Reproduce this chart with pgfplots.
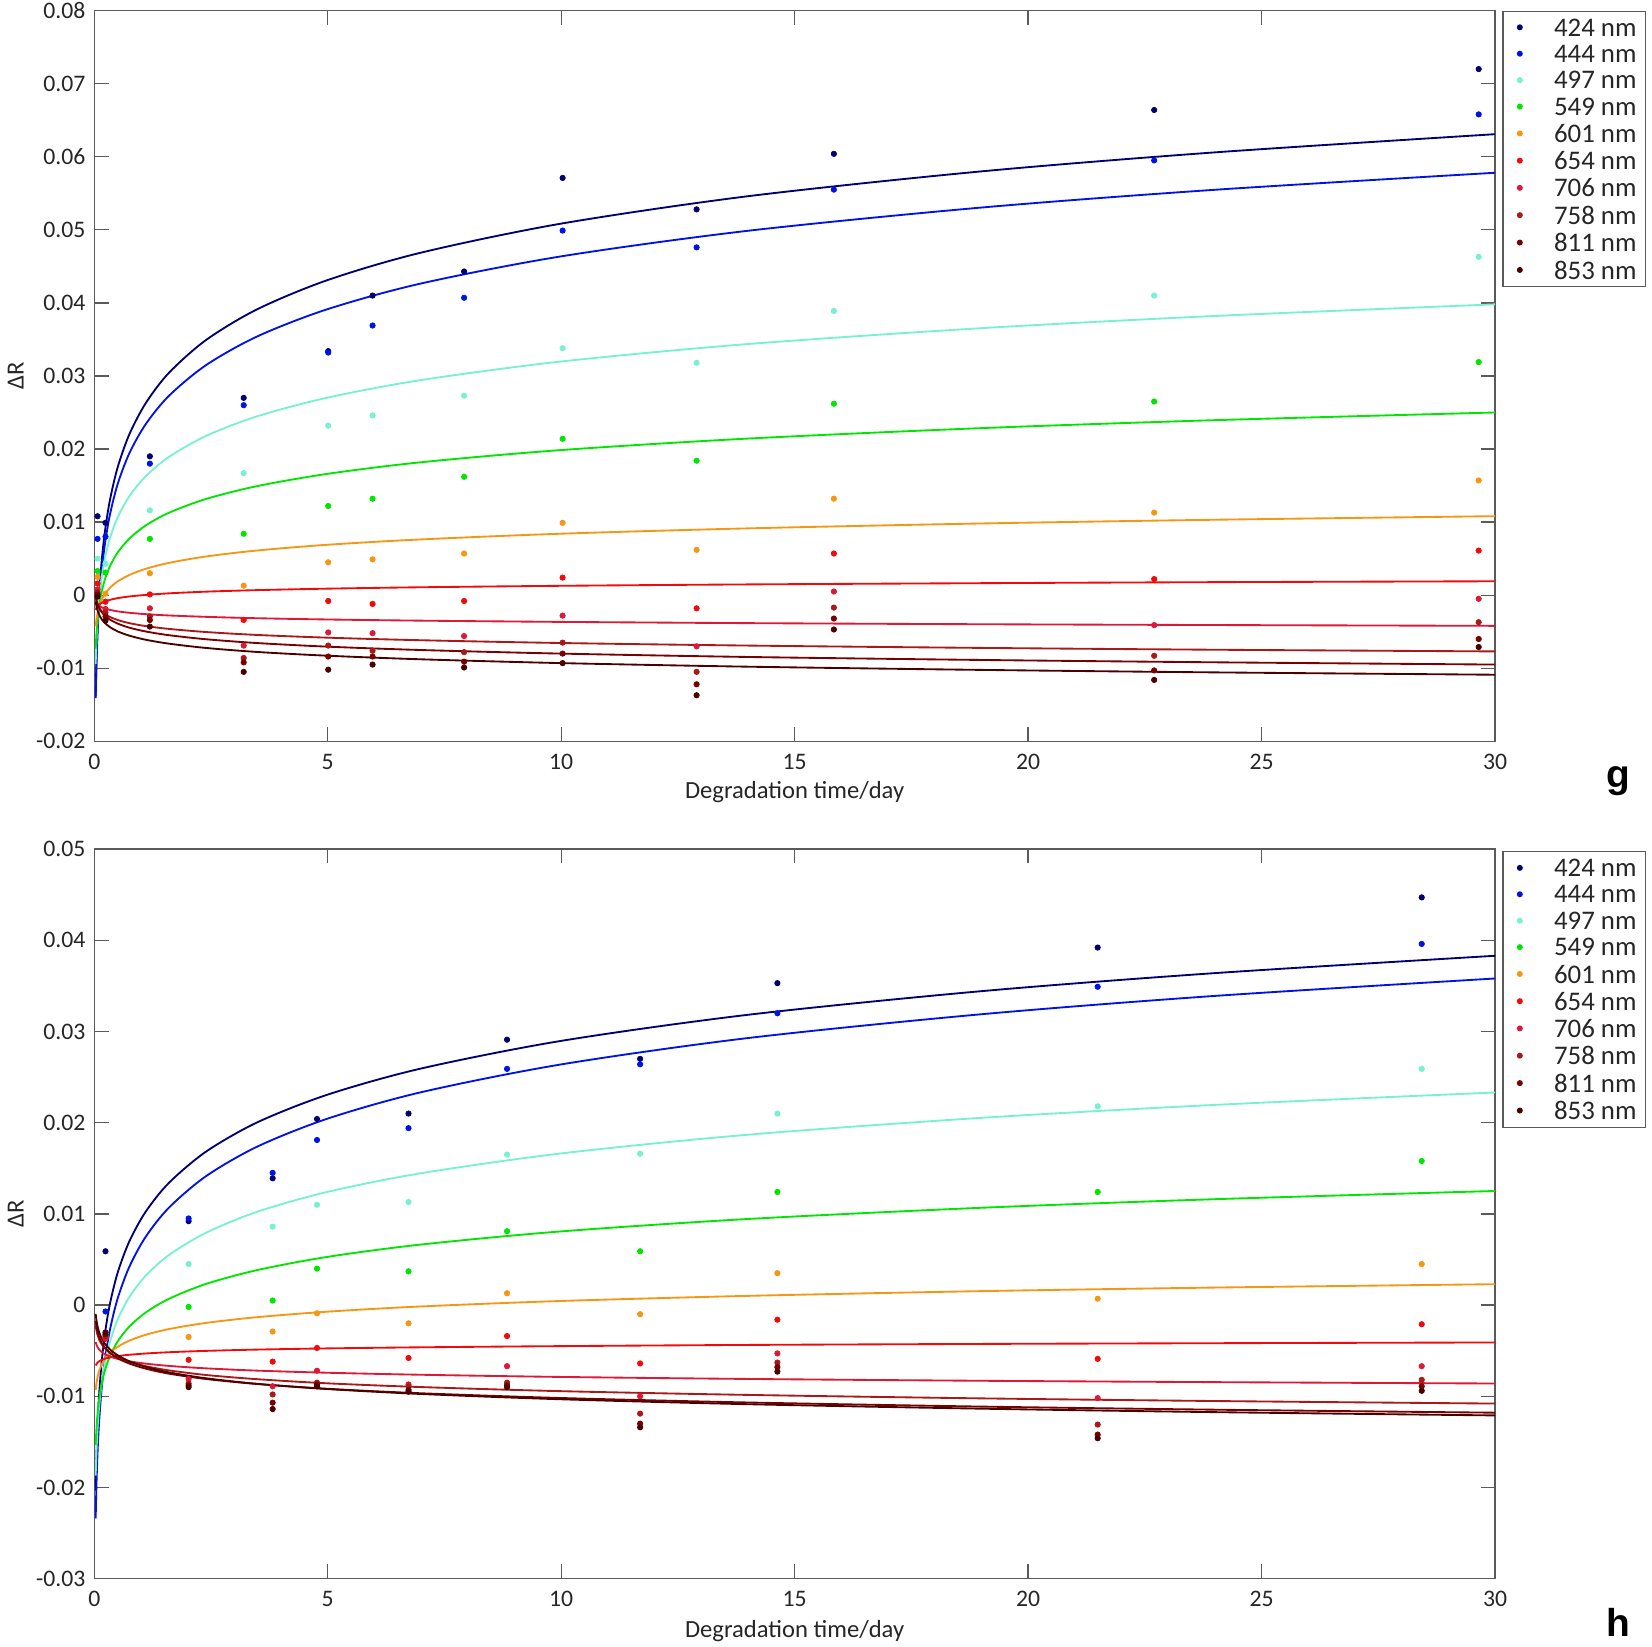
\documentclass[border=0pt]{standalone}
\usepackage{pgfplots}
\pgfplotsset{compat=1.18}
\usepackage{pgfplotstable}
\usepackage{fontspec}
\setmainfont{Carlito}
\newfontfamily\panelfont{Liberation Sans}

\definecolor{c424}{RGB}{0,0,112}
\definecolor{c444}{RGB}{0,18,230}
\definecolor{c497}{RGB}{120,240,210}
\definecolor{c549}{RGB}{0,230,0}
\definecolor{c601}{RGB}{245,150,20}
\definecolor{c654}{RGB}{240,10,10}
\definecolor{c706}{RGB}{220,25,55}
\definecolor{c758}{RGB}{170,25,25}
\definecolor{c811}{RGB}{120,0,0}
\definecolor{c853}{RGB}{75,0,0}
\definecolor{axgray}{RGB}{90,90,90}
\definecolor{txtgray}{RGB}{38,38,38}

% measured points, panel g
\pgfplotstableread{
t w424 w444 w497 w549 w601 w654 w706 w758 w811 w853
0.07 0.0108 0.0077 0.0050 0.0033 0.0025 0.0016 0.0008 0.0004 0.0001 -0.0002
0.24 0.0099 0.0080 0.0043 0.0031 0.0002 -0.0009 -0.0019 -0.0024 -0.0029 -0.0035
1.19 0.0190 0.0180 0.0116 0.0077 0.0030 0.0001 -0.0018 -0.0029 -0.0034 -0.0043
3.20 0.0270 0.0260 0.0167 0.0084 0.0013 -0.0034 -0.0069 -0.0086 -0.0092 -0.0105
5.01 0.0334 0.0332 0.0232 0.0122 0.0045 -0.0008 -0.0051 -0.0069 -0.0084 -0.0102
5.96 0.0410 0.0369 0.0246 0.0132 0.0049 -0.0012 -0.0052 -0.0076 -0.0084 -0.0095
7.92 0.0443 0.0407 0.0273 0.0162 0.0057 -0.0008 -0.0056 -0.0078 -0.0091 -0.0099
10.03 0.0571 0.0499 0.0338 0.0214 0.0099 0.0024 -0.0028 -0.0065 -0.0080 -0.0093
12.90 0.0528 0.0476 0.0318 0.0184 0.0062 -0.0018 -0.0070 -0.0105 -0.0122 -0.0137
15.84 0.0604 0.0555 0.0389 0.0262 0.0132 0.0057 0.0005 -0.0017 -0.0032 -0.0047
22.70 0.0664 0.0595 0.0410 0.0265 0.0113 0.0022 -0.0041 -0.0083 -0.0103 -0.0116
29.65 0.0720 0.0658 0.0463 0.0319 0.0157 0.0061 -0.0005 -0.0037 -0.0060 -0.0071
}\gpts

% fitted curves, panel g
\pgfplotstableread{
t w424 w444 w497 w549 w601 w654 w706 w758 w811 w853
0.03 -0.01386 -0.01410 -0.00939 -0.00733 -0.00425 -0.00200 -0.00085 -0.00045 -0.00004 -0.00088
0.045 -0.00935 -0.00988 -0.00650 -0.00543 -0.00337 -0.00177 -0.00105 -0.00087 -0.00059 -0.00146
0.07 -0.00442 -0.00528 -0.00335 -0.00337 -0.00241 -0.00152 -0.00126 -0.00134 -0.00120 -0.00210
0.1 -0.00045 -0.00157 -0.00082 -0.00170 -0.00163 -0.00132 -0.00144 -0.00171 -0.00169 -0.00262
0.15 0.00407 0.00265 0.00207 0.00020 -0.00075 -0.00109 -0.00163 -0.00214 -0.00224 -0.00321
0.22 0.00833 0.00664 0.00480 0.00199 0.00009 -0.00088 -0.00182 -0.00254 -0.00277 -0.00376
0.33 0.01285 0.01086 0.00769 0.00389 0.00097 -0.00065 -0.00201 -0.00297 -0.00332 -0.00435
0.5 0.01748 0.01519 0.01065 0.00584 0.00188 -0.00041 -0.00222 -0.00340 -0.00389 -0.00496
0.75 0.02200 0.01941 0.01353 0.00773 0.00276 -0.00018 -0.00241 -0.00383 -0.00445 -0.00554
1.1 0.02626 0.02339 0.01626 0.00953 0.00360 0.00003 -0.00260 -0.00423 -0.00497 -0.00610
1.6 0.03044 0.02729 0.01893 0.01128 0.00442 0.00025 -0.00278 -0.00462 -0.00548 -0.00664
2.4 0.03495 0.03151 0.02181 0.01318 0.00530 0.00048 -0.00297 -0.00505 -0.00604 -0.00723
3.5 0.03916 0.03544 0.02450 0.01494 0.00612 0.00069 -0.00316 -0.00545 -0.00656 -0.00778
5 0.04313 0.03915 0.02704 0.01661 0.00690 0.00089 -0.00333 -0.00582 -0.00705 -0.00829
7 0.04688 0.04266 0.02944 0.01819 0.00763 0.00108 -0.00349 -0.00617 -0.00751 -0.00878
10 0.05085 0.04637 0.03198 0.01986 0.00841 0.00128 -0.00366 -0.00655 -0.00800 -0.00930
14 0.05460 0.04987 0.03437 0.02143 0.00914 0.00147 -0.00383 -0.00690 -0.00846 -0.00979
19 0.05800 0.05305 0.03654 0.02286 0.00981 0.00164 -0.00398 -0.00722 -0.00887 -0.01023
24 0.06060 0.05548 0.03821 0.02395 0.01032 0.00178 -0.00409 -0.00747 -0.00919 -0.01057
30 0.06309 0.05781 0.03980 0.02500 0.01081 0.00190 -0.00420 -0.00770 -0.00950 -0.01089
}\gfit

% measured points, panel h
\pgfplotstableread{
t w424 w444 w497 w549 w601 w654 w706 w758 w811 w853
0.24 0.0059 -0.0007 -0.0031 -0.0033 -0.0035 -0.0037 -0.0036 -0.0034 -0.0032 -0.0030
2.02 0.0092 0.0095 0.0045 -0.0002 -0.0035 -0.0060 -0.0081 -0.0086 -0.0088 -0.0090
3.82 0.0139 0.0145 0.0086 0.0005 -0.0029 -0.0062 -0.0089 -0.0098 -0.0107 -0.0114
4.77 0.0204 0.0181 0.0110 0.0040 -0.0009 -0.0047 -0.0072 -0.0085 -0.0087 -0.0089
6.73 0.0210 0.0194 0.0113 0.0037 -0.0020 -0.0058 -0.0087 -0.0089 -0.0093 -0.0095
8.84 0.0291 0.0259 0.0165 0.0081 0.0013 -0.0034 -0.0067 -0.0085 -0.0088 -0.0090
11.69 0.0270 0.0264 0.0166 0.0059 -0.0010 -0.0064 -0.0100 -0.0119 -0.0130 -0.0134
14.63 0.0353 0.0320 0.0210 0.0124 0.0035 -0.0016 -0.0053 -0.0063 -0.0068 -0.0073
21.49 0.0392 0.0349 0.0218 0.0124 0.0007 -0.0059 -0.0102 -0.0131 -0.0142 -0.0146
28.43 0.0447 0.0396 0.0259 0.0158 0.0045 -0.0021 -0.0067 -0.0082 -0.0089 -0.0094
}\hpts

% fitted curves, panel h
\pgfplotstableread{
t w424 w444 w497 w549 w601 w654 w706 w758 w811 w853
0.03 -0.02035 -0.02339 -0.01869 -0.01533 -0.00931 -0.00662 -0.00405 -0.00223 -0.00171 -0.00097
0.045 -0.01691 -0.01992 -0.01623 -0.01370 -0.00863 -0.00648 -0.00432 -0.00274 -0.00230 -0.00163
0.07 -0.01316 -0.01613 -0.01354 -0.01192 -0.00789 -0.00631 -0.00461 -0.00328 -0.00295 -0.00234
0.1 -0.01013 -0.01307 -0.01137 -0.01048 -0.00729 -0.00618 -0.00484 -0.00373 -0.00347 -0.00291
0.15 -0.00669 -0.00960 -0.00890 -0.00885 -0.00661 -0.00603 -0.00511 -0.00423 -0.00406 -0.00357
0.22 -0.00343 -0.00632 -0.00658 -0.00730 -0.00596 -0.00589 -0.00536 -0.00470 -0.00462 -0.00418
0.33 0.00001 -0.00284 -0.00411 -0.00567 -0.00528 -0.00575 -0.00563 -0.00521 -0.00521 -0.00484
0.5 0.00354 0.00072 -0.00158 -0.00399 -0.00458 -0.00559 -0.00590 -0.00572 -0.00582 -0.00550
0.75 0.00698 0.00419 0.00088 -0.00236 -0.00390 -0.00545 -0.00617 -0.00622 -0.00641 -0.00616
1.1 0.01023 0.00748 0.00321 -0.00082 -0.00326 -0.00531 -0.00642 -0.00670 -0.00697 -0.00677
1.6 0.01341 0.01069 0.00549 0.00069 -0.00263 -0.00517 -0.00667 -0.00716 -0.00752 -0.00738
2.4 0.01685 0.01416 0.00795 0.00233 -0.00195 -0.00502 -0.00694 -0.00767 -0.00811 -0.00803
3.5 0.02006 0.01740 0.01025 0.00385 -0.00132 -0.00488 -0.00719 -0.00813 -0.00866 -0.00864
5 0.02308 0.02045 0.01242 0.00529 -0.00072 -0.00475 -0.00742 -0.00858 -0.00918 -0.00921
7 0.02594 0.02334 0.01446 0.00664 -0.00015 -0.00463 -0.00764 -0.00899 -0.00967 -0.00975
10 0.02897 0.02639 0.01663 0.00808 0.00045 -0.00450 -0.00788 -0.00944 -0.01019 -0.01033
14 0.03183 0.02928 0.01868 0.00944 0.00101 -0.00437 -0.00810 -0.00985 -0.01068 -0.01087
19 0.03442 0.03189 0.02053 0.01067 0.00153 -0.00426 -0.00830 -0.01023 -0.01113 -0.01136
24 0.03640 0.03390 0.02195 0.01161 0.00192 -0.00418 -0.00845 -0.01052 -0.01147 -0.01174
30 0.03830 0.03581 0.02331 0.01251 0.00229 -0.00410 -0.00860 -0.01080 -0.01180 -0.01210
}\hfit

\pgfplotsset{
  dotlegend/.style={legend image code/.code={%
      \path[draw=none, fill=none] (0cm,-0.05cm) rectangle (0.80cm,0.05cm);
      \draw[##1, mark size=1.3pt] plot coordinates {(0.22cm,0cm)};}},
  panel/.style={
    scale only axis,
    width=26.59cm,
    xmin=0, xmax=30,
    xtick={0,5,10,15,20,25,30},
    xticklabels={0,5,10,15,20,25,30},
    scaled y ticks=false,
    axis line style={axgray, line width=0.7pt},
    tick style={axgray, line width=0.7pt},
    major tick length=0.27cm,
    tick align=inside,
    tick label style={font=\fontsize{12.8}{15}\selectfont, text=txtgray},
    xticklabel style={yshift=-0.115cm},
    yticklabel style={xshift=-0.045cm},
    xlabel={Degradation time/day},
    ylabel={ΔR},
    label style={font=\fontsize{13.3}{16}\selectfont, text=txtgray},
    ylabel style={at={(axis description cs:-0.0561,0.5)}, anchor=center},
    legend cell align=left,
    legend style={at={(1,1)}, anchor=north west, xshift=0.14cm,
      draw=axgray, line width=0.6pt, fill=white,
      font=\fontsize{14.5}{17}\selectfont, text=txtgray,
      inner xsep=0.1cm, inner ysep=0.07cm,
      nodes={inner sep=0.0706cm, text depth=0pt},
      row sep=0.031cm, column sep=0cm},
  },
}

\begin{document}
\begin{tikzpicture}
% ---------- panel g ----------
\begin{axis}[panel, at={(0cm,15.896cm)}, anchor=south west, height=13.87cm,
  ymin=-0.02, ymax=0.08,
  ytick={-0.02,-0.01,0,0.01,0.02,0.03,0.04,0.05,0.06,0.07,0.08},
  yticklabels={-0.02,-0.01,0,0.01,0.02,0.03,0.04,0.05,0.06,0.07,0.08},
  xlabel style={at={(axis description cs:0.5,-0.070)}, anchor=center}]
\pgfplotsinvokeforeach{424,444,497,549,601,654,706,758,811,853}{
  \addplot[forget plot, color=c#1, line width=1pt, smooth] table[x=t,y=w#1]{\gfit};
}
\pgfplotsinvokeforeach{424,444,497,549,601,654,706,758,811,853}{
  \addplot[only marks, mark=*, mark size=1.45pt, color=c#1, dotlegend] table[x=t,y=w#1]{\gpts};
  \addlegendentry{#1 nm}
}
\end{axis}
% ---------- panel h ----------
\begin{axis}[panel, at={(0cm,0cm)}, anchor=south west, height=13.85cm,
  ymin=-0.03, ymax=0.05,
  ytick={-0.03,-0.02,-0.01,0,0.01,0.02,0.03,0.04,0.05},
  yticklabels={-0.03,-0.02,-0.01,0,0.01,0.02,0.03,0.04,0.05},
  xlabel style={at={(axis description cs:0.5,-0.0716)}, anchor=center},
  legend style={yshift=-0.04cm}]
\pgfplotsinvokeforeach{424,444,497,549,601,654,706,758,811,853}{
  \addplot[forget plot, color=c#1, line width=1pt, smooth] table[x=t,y=w#1]{\hfit};
}
\pgfplotsinvokeforeach{424,444,497,549,601,654,706,758,811,853}{
  \addplot[only marks, mark=*, mark size=1.45pt, color=c#1, dotlegend] table[x=t,y=w#1]{\hpts};
  \addlegendentry{#1 nm}
}
\end{axis}
\node[anchor=base, font={\fontsize{21}{24}\selectfont\panelfont\bfseries}] at (28.93cm,15.028cm) {g};
\node[anchor=base, font={\fontsize{21}{24}\selectfont\panelfont\bfseries}] at (28.93cm,-1.092cm) {h};
\pgfresetboundingbox
\path (-1.79cm,-1.292cm) rectangle (29.57cm,29.968cm);
\end{tikzpicture}
\end{document}
